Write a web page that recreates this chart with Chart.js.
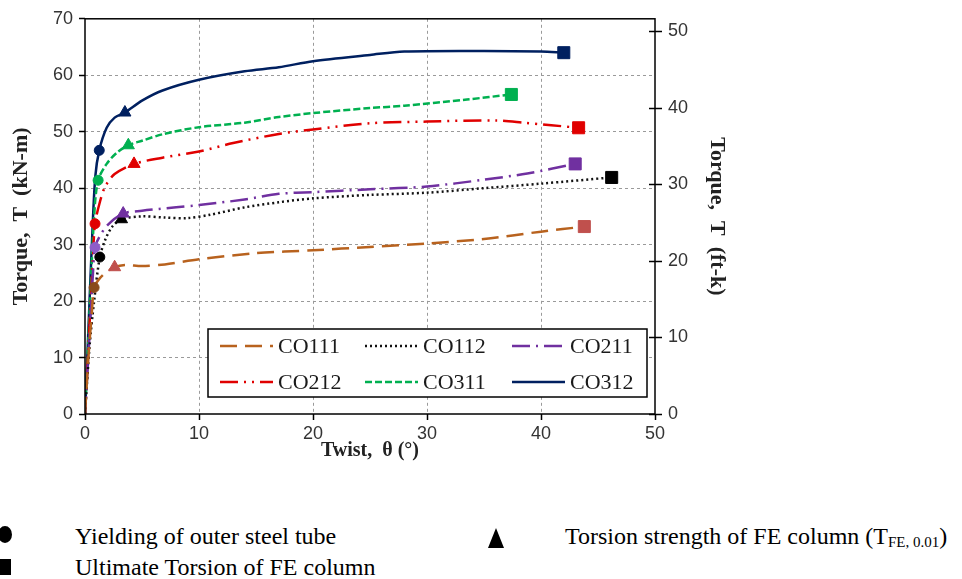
<!DOCTYPE html>
<html>
<head>
<meta charset="utf-8">
<script src="https://cdn.jsdelivr.net/npm/chart.js@4.4.0/dist/chart.umd.min.js"></script>
<style>
  body { margin: 0; background: #fff; width: 962px; height: 579px; overflow: hidden; position: relative; }
  #wrap { position: absolute; left: 0; top: -5px; width: 962px; height: 475px; }
  .note { position: absolute; font-family: "Liberation Serif", serif; font-size: 24px; color: #000; white-space: nowrap; line-height: 1; }
  .sym { position: absolute; background: #000; }
  sub { font-size: 15px; vertical-align: -3px; }
</style>
</head>
<body>
<div id="wrap"><canvas id="chart" width="962" height="475"></canvas></div>

<div class="sym" style="left:-2px; top:526px; width:14px; height:17px; border-radius:50%;"></div>
<div class="note" style="left:75px; top:524px;">Yielding of outer steel tube</div>
<div class="sym" style="left:488px; top:528px; width:0; height:0; background:none; border-left:8.5px solid transparent; border-right:8.5px solid transparent; border-bottom:20px solid #000;"></div>
<div class="note" style="left:565px; top:524px;">Torsion strength of FE column (T<sub>FE, 0.01</sub>)</div>
<div class="sym" style="left:-1px; top:559px; width:12px; height:16px;"></div>
<div class="note" style="left:75px; top:555px;">Ultimate Torsion of FE column</div>

<script>
// Twist (deg) vs torque (kN-m)
const co111 = [[0,0],[0.3,10],[0.6,18],[0.8,22.4],[1.2,23.8],[1.8,25],[2.6,26],[3.5,26.4],[5,26.2],[7,26.5],[10,27.4],[15,28.5],[20,29],[25,29.6],[30,30.2],[35,31],[40,32.3],[43.8,33.2]];
const co112 = [[0,0],[0.4,12],[0.8,20],[1.3,27.8],[1.8,31],[2.4,33.2],[3.2,34.5],[5,35.0],[7,34.8],[9,34.7],[11,35.3],[14,36.6],[17,37.5],[20,38.2],[25,38.8],[30,39.2],[35,40],[40,40.8],[46.2,41.9]];
const co211 = [[0,0],[0.4,14],[0.7,25],[0.88,29.5],[1.3,31.5],[2,33.5],[3.35,35.5],[5,36],[8,36.6],[10,37],[14,38],[17,39],[20,39.3],[25,39.8],[30,40.3],[35,41.5],[38.8,42.6],[43,44.3]];
const co212 = [[0,0],[0.4,16],[0.7,28],[0.88,33.7],[1.3,37.5],[1.75,40.2],[2.6,42.5],[4.3,44.3],[6.8,45.4],[10,46.5],[13,48],[17,49.6],[20,50.4],[25,51.5],[30,51.8],[36,52],[38.5,51.6],[43.3,50.7]];
const co311 = [[0,0],[0.4,18],[0.8,35],[1.15,41.4],[1.9,44.3],[2.8,46.3],[3.8,47.6],[5,48.4],[6.9,49.6],[10,50.8],[14,51.6],[17,52.6],[20,53.3],[25,54.2],[28,54.6],[33.5,55.7],[37.4,56.6]];
const co312 = [[0,0],[0.3,15],[0.6,30],[0.9,42],[1.25,46.7],[1.9,50.7],[2.6,52.5],[3.5,53.4],[5,55.5],[6.8,57.3],[10,59.2],[14,60.7],[17,61.4],[20,62.5],[25,63.6],[28,64.2],[35,64.3],[40,64.2],[42,64]];

// markers, in series order CO111, CO112, CO211, CO212, CO311, CO312
const yieldPts    = [[0.8,22.4],[1.3,27.8],[0.88,29.5],[0.88,33.7],[1.15,41.4],[1.25,46.7]];
const strengthPts = [[2.6,26.0],[3.2,34.5],[3.35,35.5],[4.3,44.3],[3.8,47.6],[3.5,53.4]];
const ultimatePts = [[43.8,33.2],[46.2,41.9],[43,44.3],[43.3,50.7],[37.4,56.6],[42,64.0]];

const names = ['CO111', 'CO112', 'CO211', 'CO212', 'CO311', 'CO312'];
const xTicks = [0, 10, 20, 30, 40, 50];
const leftTicks = [0, 10, 20, 30, 40, 50, 60, 70];
const rightTicks = [0, 10, 20, 30, 40, 50];
const KNM_TO_FTK = 0.7376;

const series = [co111, co112, co211, co212, co311, co312];
const colors = ['#B8621E', '#111111', '#7030A0', '#E00000', '#00B050', '#002060'];
const markColors = ['#C0504D', '#000000', '#7030A0', '#E00000', '#00B050', '#002060'];
const yieldColors = ['#8A4A1A', '#000000', '#8E5CC8', '#E00000', '#00B050', '#002060'];
const dashes = [[17, 8], [2, 3], [18, 6, 2, 6], [18, 6, 2, 6, 2, 6], [7, 3], []];

const toXY = arr => arr.map(p => ({ x: p[0], y: p[1] }));

const datasets = [];
series.forEach((s, i) => {
    datasets.push({
        label: names[i],
        data: toXY(s),
        borderColor: colors[i],
        borderWidth: 2.5,
        borderDash: dashes[i],
        pointRadius: 0,
        tension: 0.3,
        fill: false,
        order: 2
    });
});
datasets.push({
    type: 'scatter', label: 'yield', data: toXY(yieldPts),
    pointStyle: 'circle', pointRadius: 5,
    backgroundColor: yieldColors, borderColor: yieldColors, order: 1
});
datasets.push({
    type: 'scatter', label: 'strength', data: toXY(strengthPts),
    pointStyle: 'triangle', pointRadius: 7,
    backgroundColor: markColors, borderColor: markColors, order: 1
});
datasets.push({
    type: 'scatter', label: 'ultimate', data: toXY(ultimatePts),
    pointStyle: 'rect', pointRadius: 8.5,
    backgroundColor: markColors, borderColor: markColors, order: 1
});

// frame, right axis ticks and the legend box inside the plot
const framePlugin = {
    id: 'frame',
    afterDatasetsDraw(chart) {
        const { ctx, chartArea: a } = chart;
        ctx.save();
        ctx.strokeStyle = '#000';
        ctx.lineWidth = 1.5;
        ctx.setLineDash([]);
        ctx.strokeRect(a.left, a.top, a.right - a.left, a.bottom - a.top);

        const yr = chart.scales.yr;
        rightTicks.forEach(t => {
            const y = Math.round(yr.getPixelForValue(t)) + 0.5;
            ctx.beginPath();
            ctx.moveTo(a.right - 6, y);
            ctx.lineTo(a.right + 7, y);
            ctx.stroke();
        });

        // legend (page y = canvas y - 5)
        const bx = 208, by = 334, bw = 439, bh = 68;
        ctx.fillStyle = '#fff';
        ctx.fillRect(bx, by, bw, bh);
        ctx.lineWidth = 1.5;
        ctx.strokeRect(bx, by, bw, bh);
        const cols = [220, 365, 512];
        const rows = [351, 387];
        ctx.font = '22px "Liberation Serif"';
        ctx.textBaseline = 'middle';
        names.forEach((n, i) => {
            const cx = cols[i % 3], cy = rows[Math.floor(i / 3)];
            ctx.strokeStyle = colors[i];
            ctx.lineWidth = 2.5;
            ctx.setLineDash(dashes[i]);
            ctx.beginPath();
            ctx.moveTo(cx, cy);
            ctx.lineTo(cx + 53, cy);
            ctx.stroke();
            ctx.setLineDash([]);
            ctx.fillStyle = '#1a1a1a';
            ctx.fillText(n, cx + 58, cy + 1);
        });
        ctx.restore();
    }
};

const tickFont = { family: 'Liberation Sans', size: 18 };
const xTitleFont = { family: 'Liberation Serif', size: 20, weight: 'bold' };
const yTitleFont = { family: 'Liberation Serif', size: 22, weight: 'bold' };

new Chart(document.getElementById('chart'), {
    type: 'line',
    data: { datasets },
    options: {
        responsive: false,
        animation: false,
        layout: { padding: { top: 14, right: 232, bottom: 0, left: 0 } },
        plugins: { legend: { display: false }, tooltip: { enabled: false } },
        scales: {
            x: {
                type: 'linear', min: 0, max: 50,
                afterBuildTicks: s => { s.ticks = xTicks.map(v => ({ value: v })); },
                afterFit: s => { s.height = 56; },
                grid: {
                    color: c => (c.tick.value === 0 || c.tick.value === 50) ? 'rgba(0,0,0,0)' : '#9a9a9a',
                    borderDash: [3, 3],
                    tickColor: '#000', tickLength: 6, tickWidth: 1.5, tickBorderDash: []
                },
                border: { display: false, dash: [3, 3] },
                ticks: { font: tickFont, color: '#333', padding: 3, maxRotation: 0 },
                title: { display: true, text: 'Twist,  θ (°)', font: xTitleFont, color: '#222', padding: { top: 0, bottom: 7 } }
            },
            y: {
                type: 'linear', position: 'left', min: 0, max: 70,
                afterBuildTicks: s => { s.ticks = leftTicks.map(v => ({ value: v })); },
                afterFit: s => { s.width = 85; },
                grid: {
                    color: c => (c.tick.value === 0 || c.tick.value === 70) ? 'rgba(0,0,0,0)' : '#9a9a9a',
                    tickColor: '#000', tickLength: 6, tickWidth: 1.5, tickBorderDash: []
                },
                border: { display: false, dash: [3, 3] },
                ticks: { font: tickFont, color: '#333', padding: 6 },
                title: { display: true, text: 'Torque,  T  (kN-m)', font: yTitleFont, color: '#222', padding: { top: 8, bottom: 0 } }
            },
            yr: {
                type: 'linear', position: 'right', min: 0, max: 70 * KNM_TO_FTK,
                afterBuildTicks: s => { s.ticks = rightTicks.map(v => ({ value: v })); },
                afterFit: s => { s.width = 75; },
                grid: { drawOnChartArea: false, drawTicks: false },
                border: { display: false },
                ticks: { font: tickFont, color: '#333', padding: 13 },
                title: { display: true, text: 'Torque,  T  (ft-k)', font: yTitleFont, color: '#222', padding: { top: 0, bottom: 0 } }
            }
        }
    },
    plugins: [framePlugin]
});
</script>
</body>
</html>
